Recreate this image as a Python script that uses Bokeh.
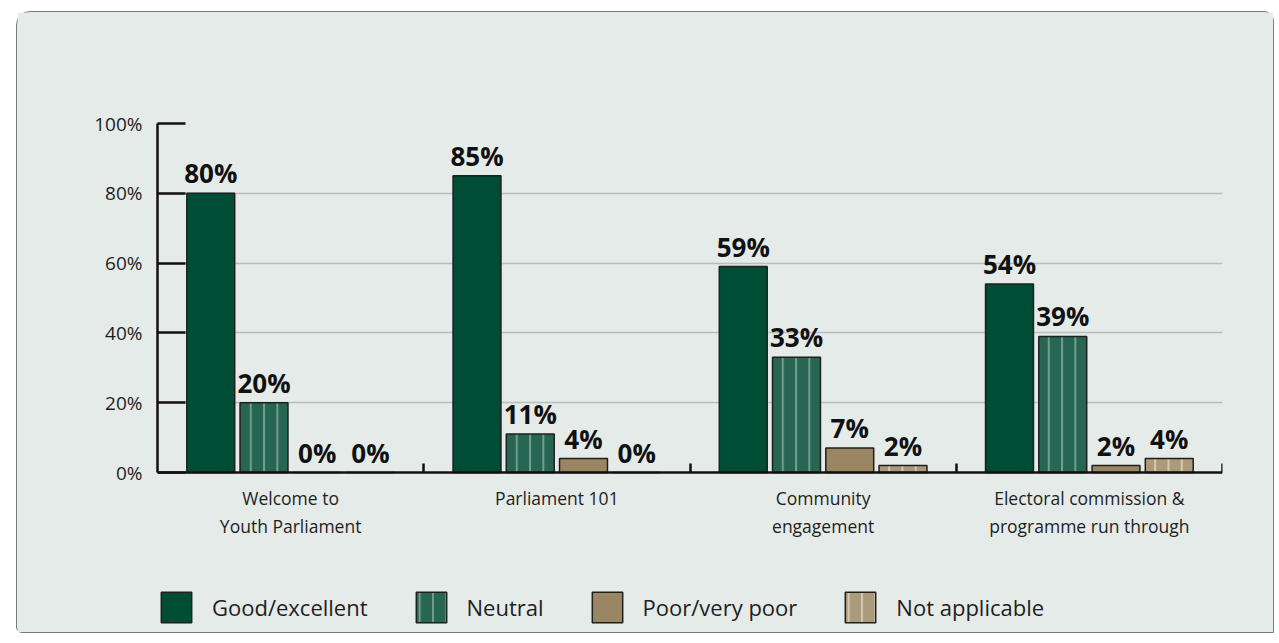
from bokeh.plotting import figure
from bokeh.models import (ColumnDataSource, LabelSet, Legend, LegendItem,
                          FixedTicker, PrintfTickFormatter)
from bokeh.core.properties import value
from bokeh.embed import file_html
from bokeh.resources import INLINE

# ---- data ----
categories = ["Welcome to\nYouth Parliament", "Parliament 101",
              "Community\nengagement", "Electoral commission &\nprogramme run through"]
series_names = ["Good/excellent", "Neutral", "Poor/very poor", "Not applicable"]
good = [80, 85, 59, 54]
neutral = [20, 11, 33, 39]
poor = [0, 4, 7, 2]
not_applicable = [0, 0, 2, 4]
y_ticks = [0, 20, 40, 60, 80, 100]

series_values = [good, neutral, poor, not_applicable]
fills = ["#004d36", "#266652", "#9a8663", "#ab9a7b"]
hatches = [None, "vertical_line", None, "vertical_line"]
hatch_colors = ["#000000", "#7fa897", "#000000", "#ddd1ba"]
offsets = [-0.3, -0.1, 0.1, 0.3]
BAR_W = 0.18

CARD = "#e5ebe9"
FONT = "Open Sans"
W, H = 1258, 622
TOP, BOTTOM, LEFT, RIGHT = 111, 0, 140, 53
# frame geometry: 100% line -> baseline is 349px, baseline -> frame bottom 162px
PX_100, PX_BELOW = 349, 162
y_start = -100.0 * PX_BELOW / PX_100


def bar_style(k):
    kw = dict(fill_color=fills[k], line_color="#1f1f1f", line_width=1.5)
    if hatches[k]:
        kw.update(hatch_pattern=hatches[k], hatch_color=hatch_colors[k],
                  hatch_scale=13.3, hatch_weight=2, hatch_alpha=0.85)
    return kw


p = figure(width=W, height=H, x_range=(0, 4), y_range=(y_start, 100),
           output_backend="svg", toolbar_location=None,
           x_axis_location="above", margin=(11, 0, 0, 16),
           min_border_left=LEFT, min_border_right=RIGHT,
           min_border_top=TOP, min_border_bottom=BOTTOM,
           background_fill_color=CARD, border_fill_color=CARD,
           outline_line_color=CARD, outline_line_width=2)
p.styles = {"border": "1.5px solid #7a7a7a",
            "border-radius": "14px 10px 0px 6px",
            "background-color": CARD}

items = []
for k, (name, vals) in enumerate(zip(series_names, series_values)):
    xs = [i + 0.5 + offsets[k] for i in range(len(categories))]
    src = ColumnDataSource(dict(x=xs, top=vals, lab=[f"{v}%" for v in vals]))
    r = p.vbar(x="x", top="top", width=BAR_W, source=src, **bar_style(k))
    items.append(LegendItem(label=name, renderers=[r]))
    p.add_layout(LabelSet(x="x", y="top", text="lab", source=src,
                          text_align="center", text_baseline="alphabetic",
                          y_offset=10, text_font=value(FONT),
                          text_font_style="bold",
                          text_font_size=value("26px"), text_color="#111111"))

# category labels under the baseline, one centred line at a time
max_lines = max(len(c.split("\n")) for c in categories)
for li in range(max_lines):
    xs, texts = [], []
    for i, c in enumerate(categories):
        parts = c.split("\n")
        if li < len(parts):
            xs.append(i + 0.5)
            texts.append(parts[li])
    src = ColumnDataSource(dict(x=xs, y=[0] * len(xs), text=texts))
    p.add_layout(LabelSet(x="x", y="y", text="text", source=src,
                          text_align="center", text_baseline="top",
                          y_offset=-13 - 28 * li,
                          text_font=value(FONT), text_font_size=value("17.5px"),
                          text_color="#1e1e1e"))

# y axis
p.yaxis.bounds = (0, 100)
p.yaxis.ticker = FixedTicker(ticks=y_ticks)
p.yaxis.formatter = PrintfTickFormatter(format="%d%%")
p.yaxis.major_tick_in = 28
p.yaxis.major_tick_out = 0
p.yaxis.minor_tick_line_color = None
p.yaxis.major_tick_line_width = 2.5
p.yaxis.major_tick_line_color = "#111111"
p.yaxis.axis_line_width = 2.5
p.yaxis.axis_line_color = "#111111"
p.yaxis.major_label_standoff = 15
p.yaxis.major_label_text_font = FONT
p.yaxis.major_label_text_font_size = "19px"
p.yaxis.major_label_text_color = "#1e1e1e"

# x axis drawn at y=0, only group boundary ticks pointing up
p.xaxis.fixed_location = 0
p.xaxis.ticker = FixedTicker(ticks=[],
                             minor_ticks=[i + 1 for i in range(len(categories))])
p.xaxis.major_label_standoff = 0
p.xaxis.major_tick_in = 0
p.xaxis.major_tick_out = 0
p.xaxis.minor_tick_in = 0
p.xaxis.minor_tick_out = 9
p.xaxis.minor_tick_line_width = 2.5
p.xaxis.minor_tick_line_color = "#111111"
p.xaxis.axis_line_width = 2.5
p.xaxis.axis_line_color = "#111111"

p.xgrid.grid_line_color = None
p.ygrid.ticker = FixedTicker(ticks=y_ticks[1:])
p.ygrid.grid_line_color = "#b9bdbb"
p.ygrid.grid_line_width = 1.5

legend = Legend(items=items, orientation="horizontal", location=(0, 8),
                glyph_width=38, glyph_height=38, label_standoff=17, spacing=44,
                padding=0, margin=0, border_line_color=None,
                background_fill_alpha=0, label_text_font=FONT,
                label_text_font_size="22px", label_text_color="#1e1e1e",
                label_height=38)
p.add_layout(legend, "center")

open("out.html", "w").write(file_html(p, INLINE))
